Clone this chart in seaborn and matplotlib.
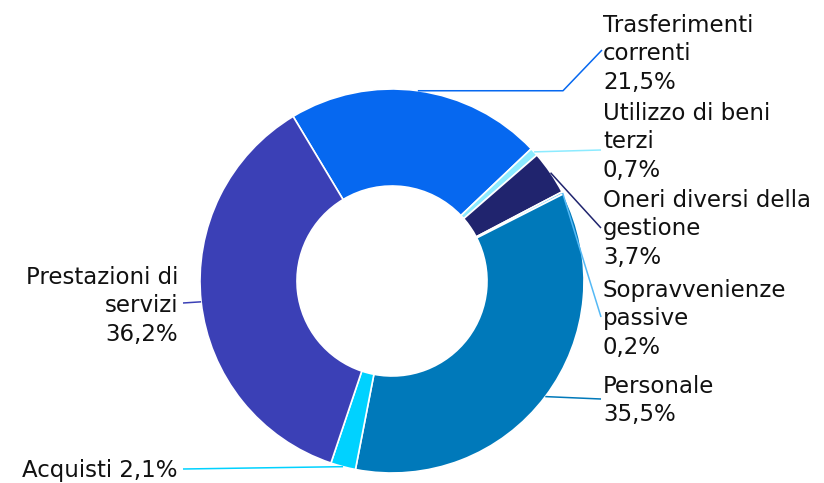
import numpy as np
import matplotlib.pyplot as plt
import seaborn as sns

# Composizione della spesa
categories = ["Trasferimenti correnti", "Utilizzo di beni terzi",
              "Oneri diversi della gestione", "Sopravvenienze passive",
              "Personale", "Acquisti", "Prestazioni di servizi"]
shares = [21.5, 0.7, 3.7, 0.2, 35.5, 2.1, 36.2]
name_lines = [["Trasferimenti", "correnti"],
              ["Utilizzo di beni", "terzi"],
              ["Oneri diversi della", "gestione"],
              ["Sopravvenienze", "passive"],
              ["Personale"],
              ["Acquisti"],
              ["Prestazioni di", "servizi"]]
colors = ["#0668F0", "#8CEBFF", "#20246E", "#55B9F5",
          "#0079BA", "#00D2FF", "#3B40B6"]

sns.set_theme(style="white")
plt.rcParams['font.family'] = ['DejaVu Sans']

W, H = 824, 483
fig = plt.figure(figsize=(W / 100, H / 100), dpi=100)
ax = fig.add_axes([0, 0, 1, 1])

cx, cy = 392, H - 281
R, r = 192, 95

wedges, _ = ax.pie(shares, colors=colors, startangle=121, counterclock=False,
                   radius=R, center=(cx, cy),
                   wedgeprops=dict(width=R - r, edgecolor="white", linewidth=1.2))
ax.set_xlim(0, W)
ax.set_ylim(0, H)
ax.set_aspect("equal")
ax.axis("off")

# label placement (pixel coords, y down): text x, first baseline, align, leader path
layout = [
    (603, 32, "left", [(563, None), (602, 50)]),
    (603, 120, "left", [(601, 150)]),
    (603, 207, "left", [(601, 228)]),
    (603, 297, "left", [(601, 317)]),
    (603, 393, "left", [(601, 399)]),
    (178, 477, "right", [(183, 469)]),
    (178, 284, "right", [(183, 303)]),
]
step = 28.5

for w, share, lines, col, (tx, b0, ha, path) in zip(wedges, shares, name_lines, colors, layout):
    mid = np.deg2rad((w.theta1 + w.theta2) / 2)
    sx, sy = cx + R * np.cos(mid), cy + R * np.sin(mid)
    xs, ys = [sx], [sy]
    for px, py in path:
        xs.append(px)
        ys.append(sy if py is None else H - py)
    ax.plot(xs, ys, color=col, lw=1.1, solid_capstyle="butt")

    pct = f"{share:.1f}%".replace(".", ",")
    if len(lines) == 1 and ha == "right":
        text_lines = [lines[0] + " " + pct]
    else:
        text_lines = lines + [pct]
    for i, t in enumerate(text_lines):
        ax.text(tx, H - (b0 + i * step), t, ha=ha, va="baseline",
                fontsize=16.5, color="#111111")

fig.savefig("out.png", dpi=100)
